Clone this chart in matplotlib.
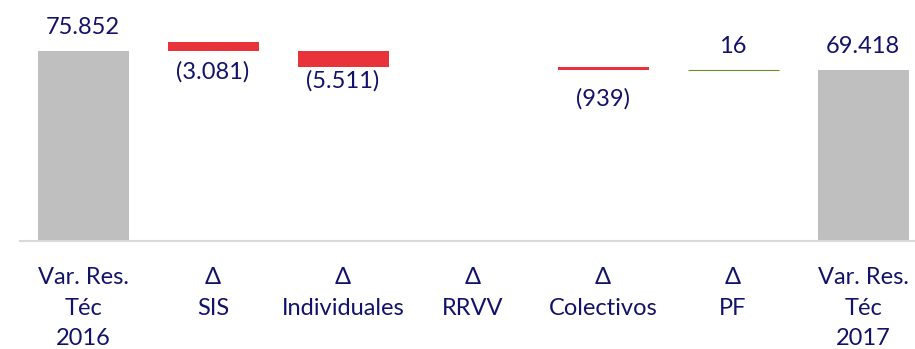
import matplotlib
matplotlib.use("Agg")
import matplotlib.pyplot as plt

# ---- data ----
categories = ["Var. Res.\nTéc\n2016", "Δ\nSIS", "Δ\nIndividuales", "Δ\nRRVV",
              "Δ\nColectivos", "Δ\nPF", "Var. Res.\nTéc\n2017"]
start_value = 75852
deltas = [-3081, -5511, 0, -939, 16]
end_value = 69418
value_labels = ["75.852", "(3.081)", "(5.511)", "", "(939)", "16", "69.418"]

# ---- style ----
TEXT = "#12126A"
GRAY = "#BFBFBF"
RED = "#E8333A"
GREEN = "#6E8B2E"
plt.rcParams['font.family'] = ['Lato', 'DejaVu Sans']

fig = plt.figure(figsize=(9.15, 3.49), dpi=100)
ax = fig.add_axes([20/915, 108/349, 895/915, 241/349])

x = list(range(len(categories)))
w = 0.7

# totals
ax.bar(x[0], start_value, width=w, color=GRAY)
ax.bar(x[-1], end_value, width=w, color=GRAY)

# deltas (positioned as in the reference chart)
level = start_value
bottoms, heights, colors = [], [], []
for i, d in enumerate(deltas):
    if i == 0:
        b = level  # drawn above the opening total in the reference
    else:
        b = level + min(d, 0)
        level += d
    bottoms.append(b)
    heights.append(abs(d))
    colors.append(RED if d < 0 else GREEN)

for i, (b, h, c) in enumerate(zip(bottoms, heights, colors)):
    if h == 0:
        continue
    lw = 0.8 if h < 100 else 0
    ax.bar(x[i + 1], h, bottom=b, width=w, color=c, edgecolor=c, linewidth=lw)

# labels
fs = 17
ax.annotate(value_labels[0], (x[0], start_value), xytext=(0, 9.5), textcoords="offset points",
            ha="center", va="bottom", fontsize=fs, color=TEXT)
ax.annotate(value_labels[-1], (x[-1], end_value), xytext=(0, 9.5), textcoords="offset points",
            ha="center", va="bottom", fontsize=fs, color=TEXT)
neg_offsets = [-7, -2, 0, -13, 0]
for i, d in enumerate(deltas):
    lab = value_labels[i + 1]
    if not lab:
        continue
    if d < 0:
        ax.annotate(lab, (x[i + 1], bottoms[i]), xytext=(0, neg_offsets[i]),
                    textcoords="offset points", ha="center", va="top",
                    fontsize=fs, color=TEXT)
    else:
        ax.annotate(lab, (x[i + 1], bottoms[i] + heights[i]), xytext=(0, 9.5),
                    textcoords="offset points", ha="center", va="bottom",
                    fontsize=fs, color=TEXT)

ax.set_xlim(-0.485, 6.4)
ax.set_ylim(11518, 93121)
ax.set_xticks(x)
ax.set_xticklabels(categories, fontsize=fs, color=TEXT, linespacing=1.56)
ax.tick_params(axis="x", length=0, pad=19)
ax.set_yticks([])
for s in ["top", "left", "right"]:
    ax.spines[s].set_visible(False)
ax.spines["bottom"].set_color("#D9D9D9")
ax.spines["bottom"].set_linewidth(1.5)

fig.savefig("out.png", dpi=100)
